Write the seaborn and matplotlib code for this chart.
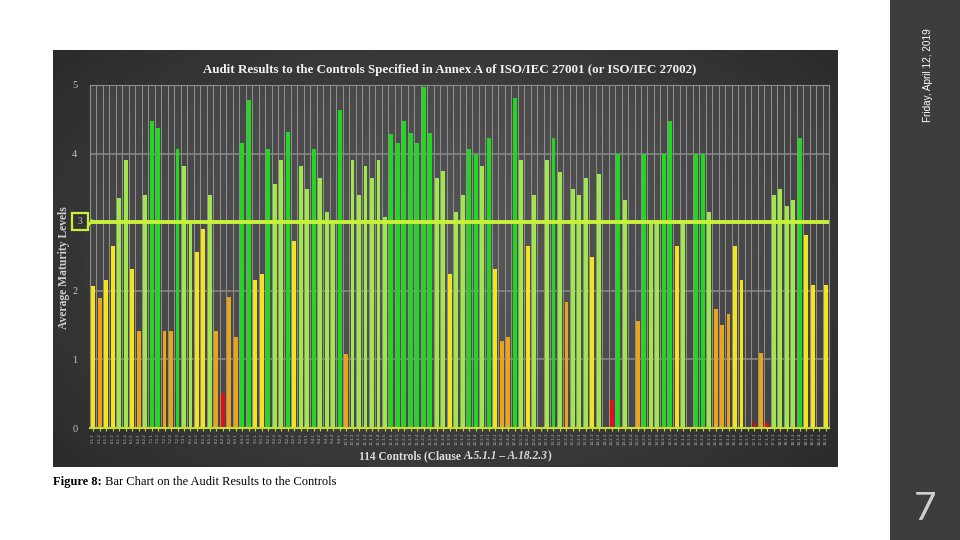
import numpy as np
import pandas as pd
import matplotlib
matplotlib.use("Agg")
import matplotlib.pyplot as plt
import seaborn as sns
from matplotlib.patches import Rectangle
from matplotlib.lines import Line2D

# Annex A control numbers (114 controls)
clauses = [
    "5.1.1", "5.1.2",
    "6.1.1", "6.1.2", "6.1.3", "6.1.4", "6.1.5", "6.2.1", "6.2.2",
    "7.1.1", "7.1.2", "7.2.1", "7.2.2", "7.2.3", "7.3.1",
    "8.1.1", "8.1.2", "8.1.3", "8.1.4", "8.2.1", "8.2.2", "8.2.3", "8.3.1", "8.3.2", "8.3.3",
    "9.1.1", "9.1.2", "9.2.1", "9.2.2", "9.2.3", "9.2.4", "9.2.5", "9.2.6", "9.3.1",
    "9.4.1", "9.4.2", "9.4.3", "9.4.4", "9.4.5",
    "10.1.1", "10.1.2",
    "11.1.1", "11.1.2", "11.1.3", "11.1.4", "11.1.5", "11.1.6",
    "11.2.1", "11.2.2", "11.2.3", "11.2.4", "11.2.5", "11.2.6", "11.2.7", "11.2.8", "11.2.9",
    "12.1.1", "12.1.2", "12.1.3", "12.1.4", "12.2.1", "12.3.1", "12.4.1", "12.4.2", "12.4.3",
    "12.4.4", "12.5.1", "12.6.1", "12.6.2", "12.7.1",
    "13.1.1", "13.1.2", "13.1.3", "13.2.1", "13.2.2", "13.2.3", "13.2.4",
    "14.1.1", "14.1.2", "14.1.3", "14.2.1", "14.2.2", "14.2.3", "14.2.4", "14.2.5", "14.2.6",
    "14.2.7", "14.2.8", "14.2.9", "14.3.1",
    "15.1.1", "15.1.2", "15.1.3", "15.2.1", "15.2.2",
    "16.1.1", "16.1.2", "16.1.3", "16.1.4", "16.1.5", "16.1.6", "16.1.7",
    "17.1.1", "17.1.2", "17.1.3", "17.2.1",
    "18.1.1", "18.1.2", "18.1.3", "18.1.4", "18.1.5", "18.2.1", "18.2.2", "18.2.3",
]

# average maturity level per control
maturity = [
    2.07, 1.89, 2.16, 2.66, 3.35, 3.90, 2.32, 1.42, 3.40, 4.47,
    4.38, 1.42, 1.42, 4.07, 3.82, 3.00, 2.56, 2.90, 3.40, 1.42,
    0.51, 1.91, 1.33, 4.15, 4.78, 2.16, 2.25, 4.06, 3.56, 3.90,
    4.32, 2.72, 3.82, 3.49, 4.06, 3.65, 3.15, 3.00, 4.64, 1.08,
    3.90, 3.40, 3.82, 3.65, 3.90, 3.08, 4.28, 4.15, 4.47, 4.30,
    4.15, 4.97, 4.30, 3.65, 3.74, 2.25, 3.15, 3.40, 4.06, 4.00,
    3.82, 4.23, 2.32, 1.27, 1.33, 4.81, 3.90, 2.65, 3.40, 0.00,
    3.90, 4.23, 3.73, 1.83, 3.49, 3.40, 3.65, 2.49, 3.70, 0.00,
    0.41, 4.00, 3.32, 0.00, 1.56, 4.00, 3.00, 3.00, 4.00, 4.48,
    2.65, 3.00, 0.00, 4.00, 4.00, 3.15, 1.74, 1.50, 1.66, 2.65,
    2.16, 0.00, 0.08, 1.09, 0.08, 3.40, 3.49, 3.24, 3.32, 4.23,
    2.81, 2.08, 0.00, 2.08,
]

target_level = 3
title = "Audit Results to the Controls Specified in Annex A of ISO/IEC 27001 (or ISO/IEC 27002)"


def level_colour(v):
    if v >= 4:
        return "#1fd81f"
    if v >= 3:
        return "#a0e84a"
    if v >= 2:
        return "#f3e51c"
    if v >= 1:
        return "#e9a41a"
    return "#e01010"


df = pd.DataFrame({"control": clauses, "level": maturity})
colours = [level_colour(v) for v in df["level"]]

W, H = 960, 540
fig = plt.figure(figsize=(9.6, 5.4), dpi=100)
fig.patch.set_facecolor("white")

serif = ["Liberation Serif", "DejaVu Serif"]

# dark chart panel with a soft radial gradient
bg = fig.add_axes([53 / W, 73 / H, 785 / W, 417 / H])
yy, xx = np.mgrid[0:1:200j, 0:1:320j]
r = np.sqrt(((xx - 0.5) / 0.75) ** 2 + ((yy - 0.5) / 0.9) ** 2)
shade = np.clip(0.31 - 0.16 * r, 0.14, 0.32)
bg.imshow(shade, cmap="gray", vmin=0, vmax=1, aspect="auto", interpolation="bilinear")
bg.axis("off")

# plot area
ax = fig.add_axes([90 / W, 112 / H, 739 / W, 343 / H])
ax.set_facecolor((0.42, 0.42, 0.42, 0.30))
sns.barplot(data=df, x="control", y="level", hue="control", palette=colours,
            legend=False, width=0.6, saturation=1, linewidth=0, ax=ax, zorder=2)

ax.set_xlim(-0.5, len(clauses) - 0.5)
ax.set_ylim(0, 5)

for b in np.arange(-0.5, len(clauses), 1):
    ax.axvline(b, color="#929292", lw=0.7, zorder=0)
for yv in [1, 2, 4, 5]:
    ax.axhline(yv, color="#8a8a8a", lw=1.1, zorder=0.5)
ax.axhline(target_level, color="#c8f23a", lw=2.8, zorder=3)

for s in ["left", "top", "right"]:
    ax.spines[s].set_color("#8e8e8e")
    ax.spines[s].set_linewidth(0.8)
ax.spines["bottom"].set_color("#c8dc3a")
ax.spines["bottom"].set_linewidth(1.5)

ax.set_yticks([0, 1, 2, 4, 5])
ax.set_yticklabels(["0", "1", "2", "4", "5"], color="#c4c4c4", fontsize=7.5, family=serif)
ax.tick_params(axis="y", length=0, pad=9)
ax.set_xticks(range(len(clauses)))
ax.set_xticklabels(clauses, rotation=90, fontsize=2.8, color="#b8b8b8")
ax.tick_params(axis="x", length=2, color="#c8dc3a", pad=1.5)
ax.set_xlabel("")
ax.set_ylabel("")

# boxed target tick "3" with connector
fig.patches.append(Rectangle((72 / W, (H - 230) / H), 16 / W, 17 / H, transform=fig.transFigure,
                             fill=False, edgecolor="#c8f23a", lw=1.6))
fig.text(80 / W, 1 - 221.5 / H, "3", ha="center", va="center", color="#c4c4c4",
         fontsize=7, family=serif)
fig.add_artist(Line2D([88 / W, 92 / W], [1 - 226 / H, 1 - 220.5 / H], transform=fig.transFigure,
                      color="#c8f23a", lw=1.6))

# titles
fig.text(450 / W, 1 - 70 / H, title, ha="center", va="center", color="#f2f2f2",
         fontsize=9.4, fontweight="bold", family=serif)
fig.text(64 / W, 1 - 268 / H, "Average Maturity Levels", rotation=90, ha="center", va="center",
         color="#d0d0d0", fontsize=8.4, fontweight="bold", family=serif)

t1 = fig.text(359 / W, 1 - 456 / H, "114 Controls (Clause ", ha="left", va="center",
              color="#dcdcdc", fontsize=8.3, fontweight="bold", family=serif)
t2 = ax.annotate("A.5.1.1 \u2013 A.18.2.3", xy=(1, 0), xycoords=t1, ha="left", va="bottom",
                 color="#dcdcdc", fontsize=8.3, fontstyle="italic", fontweight="bold", family=serif,
                 annotation_clip=False)
ax.annotate(")", xy=(1, 0), xycoords=t2, ha="left", va="bottom", color="#dcdcdc",
            fontsize=8.3, fontweight="bold", family=serif, annotation_clip=False)

# caption under the figure
c1 = fig.text(53 / W, 1 - 482 / H, "Figure 8:", ha="left", va="center", color="black",
              fontsize=9, fontweight="bold", family=serif)
ax.annotate(" Bar Chart on the Audit Results to the Controls", xy=(1, 0), xycoords=c1,
            ha="left", va="bottom", color="black", fontsize=9, family=serif,
            annotation_clip=False)

# slide side strip
fig.patches.append(Rectangle((890 / W, 0), 70 / W, 1, transform=fig.transFigure,
                             facecolor="#3d3d3d", edgecolor="none", zorder=-1))
fig.text(928 / W, 1 - 75 / H, "Friday, April 12, 2019", rotation=90, ha="center", va="center",
         color="white", fontsize=7.2, family=["Liberation Sans", "DejaVu Sans"])
fig.text(925 / W, 1 - 509 / H, "7", ha="center", va="center", color="#cfcfcf",
         fontsize=28, family=["Lato", "DejaVu Sans"], fontweight="normal")

fig.savefig("out.png", dpi=100)
